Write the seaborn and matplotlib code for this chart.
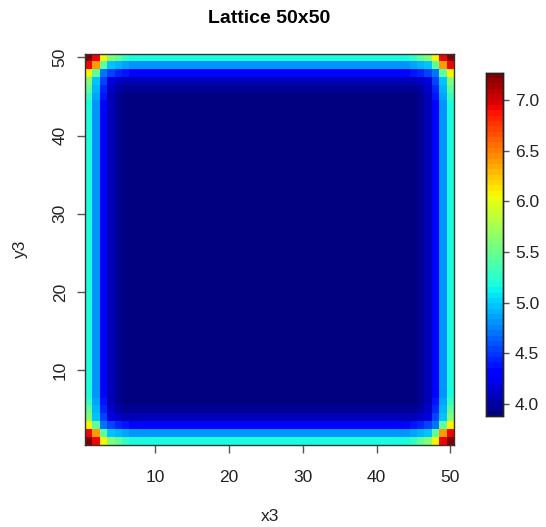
import numpy as np
import pandas as pd
import matplotlib
matplotlib.use("Agg")
import matplotlib.pyplot as plt
import seaborn as sns

# Lattice size
n = 50

# Value deep inside the lattice
interior_value = 3.88

# Values along a straight edge, by depth from the boundary (1, 2, ...)
edge_profile = [5.18, 4.83, 4.35, 4.06, 3.95, 3.91]

# Values in a corner block, indexed by depth from the two boundaries
corner_block = [
    [7.27, 6.90, 6.08, 5.59, 5.44, 5.31],
    [6.90, 6.40, 5.42, 4.98, 4.92, 4.87],
    [6.08, 5.42, 4.72, 4.52, 4.43, 4.38],
    [5.59, 4.98, 4.52, 4.16, 4.11, 4.08],
    [5.44, 4.92, 4.43, 4.11, 4.01, 3.97],
    [5.31, 4.87, 4.38, 4.08, 3.97, 3.93],
]

# Axis ticks
x_ticks = [10, 20, 30, 40, 50]
y_ticks = [10, 20, 30, 40, 50]
cbar_ticks = [4.0, 4.5, 5.0, 5.5, 6.0, 6.5, 7.0]

# Fill the lattice (symmetric in both axes)
k = len(edge_profile)
grid = np.full((n, n), interior_value)
for yi in range(1, n + 1):
    dy = min(yi, n + 1 - yi)
    for xi in range(1, n + 1):
        dx = min(xi, n + 1 - xi)
        if dx <= k and dy <= k:
            v = corner_block[dy - 1][dx - 1]
        elif dx <= k:
            v = edge_profile[dx - 1]
        elif dy <= k:
            v = edge_profile[dy - 1]
        else:
            v = interior_value
        grid[yi - 1, xi - 1] = v

y_vals = np.arange(1, n + 1)
x_vals = np.arange(1, n + 1)
# rows from y=50 at the top down to y=1
df = pd.DataFrame(grid[::-1], index=y_vals[::-1], columns=x_vals)

sns.set_style("white")
plt.rcParams["font.family"] = ["Liberation Sans", "DejaVu Sans"]

W, H = 546, 527
fig = plt.figure(figsize=(W / 100, H / 100), dpi=100)
left, right, top, bottom = 85, 454, 53.5, 444.6
ax = fig.add_axes([left / W, 1 - bottom / H, (right - left) / W, (bottom - top) / H])
cb_l, cb_r, cb_t, cb_b = 486, 503, 72.7, 416
cax = fig.add_axes([cb_l / W, 1 - cb_b / H, (cb_r - cb_l) / W, (cb_b - cb_t) / H])

cmap = plt.get_cmap("jet", 64)
sns.heatmap(df, ax=ax, cmap=cmap, cbar_ax=cax,
            vmin=grid.min(), vmax=grid.max(),
            xticklabels=False, yticklabels=False,
            cbar_kws={"ticks": cbar_ticks})

txt = "#222222"
fs = 12.5
ax.set_xticks([v - 0.5 for v in x_ticks])
ax.set_xticklabels([str(v) for v in x_ticks], fontsize=fs, color=txt)
ax.set_yticks([n - v + 0.5 for v in y_ticks])
ax.set_yticklabels([str(v) for v in y_ticks], fontsize=fs, color=txt,
                   rotation=90, va="center")
ax.tick_params(axis="both", which="both", direction="out", length=5.5,
               width=1, color="#555555", left=True, bottom=True)
ax.tick_params(axis="x", pad=13)
ax.tick_params(axis="y", pad=7)
ax.set_xlabel("x3", fontsize=fs, color=txt, labelpad=17)
ax.set_ylabel("y3", fontsize=fs, color=txt, labelpad=18)
ax.set_title("Lattice 50x50", fontsize=14, fontweight="bold", color="black", pad=22)
for s in ax.spines.values():
    s.set_visible(True)
    s.set_color("#333333")
    s.set_linewidth(1)

cax.tick_params(direction="out", length=4.5, width=1, color="#555555",
                labelsize=fs, labelcolor=txt, pad=4, right=True)
cax.set_yticklabels([f"{t:.1f}" for t in cbar_ticks])
for s in cax.spines.values():
    s.set_visible(True)
    s.set_color("#222222")
    s.set_linewidth(1)

fig.savefig("out.png", dpi=100)
